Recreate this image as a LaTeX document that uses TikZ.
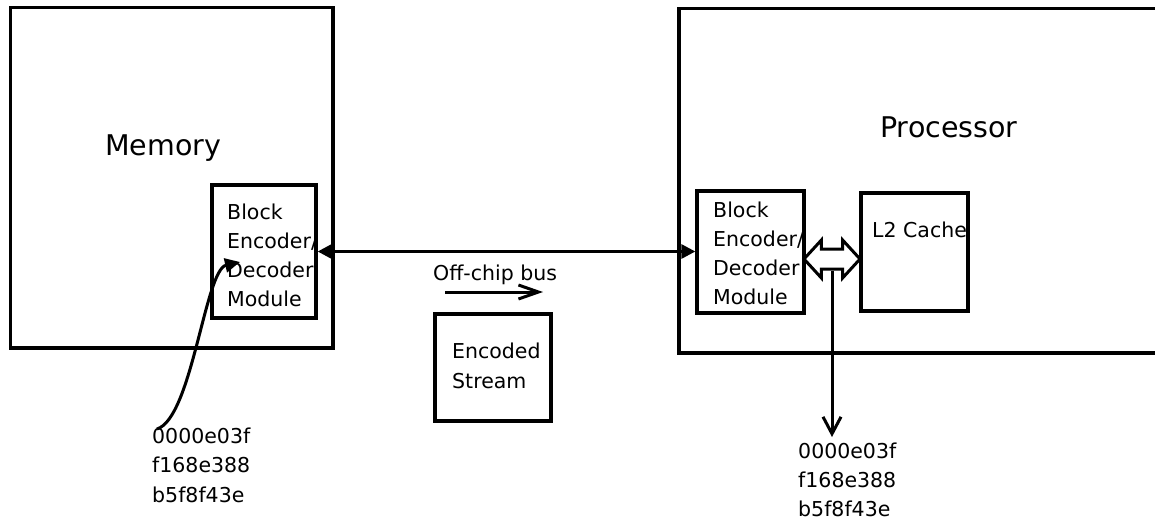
\documentclass[tikz,border=0pt]{standalone}
\usepackage{fontspec}
\setmainfont{DejaVu Sans}
\usetikzlibrary{arrows.meta,shapes.arrows}
\pgfdeclarelayer{background}
\pgfsetlayers{background,main}

\begin{document}
\begin{tikzpicture}[x=1pt,y=-1pt,
  box/.style={draw, line width=3.3pt, inner sep=0pt},
  txt/.style={font=\fontsize{20.5}{24}\selectfont, inner sep=0pt, anchor=base west},
  big/.style={font=\fontsize{28.5}{34}\selectfont, inner sep=0pt, anchor=base west},
  wire/.style={line width=3pt},
  solidtip/.tip={Triangle[length=14pt,width=14pt]}
]
\clip (0,0) rectangle (1155,520);
\begin{pgfonlayer}{background}
  \fill[white] (0,0) rectangle (1155,520);
\end{pgfonlayer}

% memory side
\node[box, minimum width=322.5pt, minimum height=340.5pt] (mem) at (171.75,177.75) {};
\node[big] (memlbl) at (105,155) {Memory};
\node[box, minimum width=104pt, minimum height=133pt] (lmod) at (264,251.5) {};

% processor side (runs past the right edge)
\node[box, minimum width=501pt, minimum height=344.5pt] (proc) at (929.5,180.75) {};
\node[big] (proclbl) at (880,137) {Processor};
\node[box, minimum width=107pt, minimum height=122pt] (rmod) at (750.5,252) {};
\node[box, minimum width=107pt, minimum height=118pt] (l2) at (914.5,252) {};

% bus payload
\node[box, minimum width=116pt, minimum height=107pt] (enc) at (493,367.5) {};
\node[txt] (enc1) at (452,358) {Encoded};
\node[txt] (enc2) at (452,388) {Stream};

% box labels, cut off at the box borders
\begin{pgfonlayer}{background}
  \begin{scope}
    \clip (lmod.north west) rectangle (lmod.south east);
    \foreach \t [count=\i from 0] in {Block,Encoder/,Decoder,Module}
      \node[txt] (lmodt\i) at (227,{219+29.3*\i}) {\t};
  \end{scope}
  \begin{scope}
    \clip (rmod.north west) rectangle (rmod.south east);
    \foreach \t [count=\i from 0] in {Block,Encoder/,Decoder,Module}
      \node[txt] (rmodt\i) at (713,{217+29.3*\i}) {\t};
  \end{scope}
  \begin{scope}
    \clip (l2.north west) rectangle (l2.south east);
    \node[txt] (l2t) at (872,237) {L2 Cache};
  \end{scope}
\end{pgfonlayer}

% off-chip bus
\draw[wire, solidtip-solidtip] (lmod.east) -- (lmod.east -| rmod.west);
\node[txt] (busl) at (433,280) {Off-chip bus};
\coordinate (dirs) at (445,292);
\coordinate (dire) at (543,292);
\draw[wire, -{Straight Barb[length=20pt,width=14pt]}] (dirs) -- (dire);

% data words
\foreach \t [count=\i from 0] in {0000e03f,f168e388,b5f8f43e}
  \node[txt] (lnum\i) at (152,{443+29.5*\i}) {\t};
\foreach \t [count=\i from 0] in {0000e03f,f168e388,b5f8f43e}
  \node[txt] (rnum\i) at (798,{458+29*\i}) {\t};

% data entering the memory-side module
\coordinate (cs) at (157,429);
\coordinate (ce) at (240,262);
\draw[wire, -{Triangle[length=15pt,width=14pt]}] (cs) .. controls (192,418) and (205,270) .. (ce);

% module <-> L2 cache link and data leaving it
\node[draw, line width=3pt, double arrow, double arrow head extend=9pt,
      double arrow tip angle=95, inner xsep=0pt, inner ysep=8.5pt,
      minimum height=56pt] (dbl) at (832,259) {};
\coordinate (vend) at (832,437);
\draw[wire, -{Straight Barb[length=17pt,width=18pt]}] (dbl.south) -- (vend);
\end{tikzpicture}
\end{document}
